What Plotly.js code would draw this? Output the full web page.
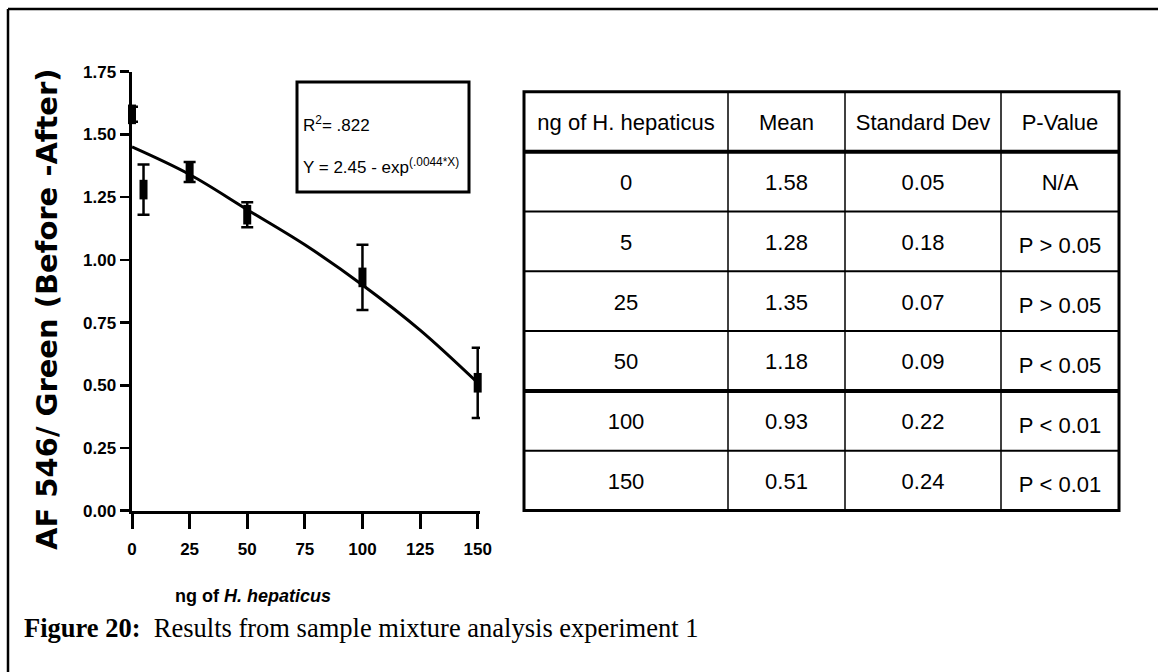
<!DOCTYPE html>
<html>
<head>
<meta charset="utf-8">
<script src="https://cdn.plot.ly/plotly-3.0.1.min.js"></script>
<style>
html,body{margin:0;padding:0;background:#fff;}
#chart{width:1158px;height:672px;}
</style>
</head>
<body>
<div id="chart"></div>
<script>
// ---- data ----
const conc = [0, 5, 25, 50, 100, 150];               // ng of H. hepaticus
const meanVals = [1.58, 1.28, 1.35, 1.18, 0.93, 0.51];
const errBars = [0.03, 0.10, 0.04, 0.05, 0.13, 0.14]; // error bar half-lengths
const sdVals = ["0.05", "0.18", "0.07", "0.09", "0.22", "0.24"];
const pVals = ["N/A", "P > 0.05", "P > 0.05", "P < 0.05", "P < 0.01", "P < 0.01"];
const fitX = [0, 25, 50, 75, 100, 125, 150];
const fitY = [1.45, 1.34, 1.20, 1.06, 0.90, 0.72, 0.51];
const yTicks = [0, 0.25, 0.5, 0.75, 1.0, 1.25, 1.5, 1.75];
const xTicks = [0, 25, 50, 75, 100, 125, 150];
const tableHeader = ["ng of H. hepaticus", "Mean", "Standard Dev", "P-Value"];

const W = 1158, H = 672;
const px = v => v / W;
const py = v => 1 - v / H;

const SANS = "Liberation Sans, Arial, sans-serif";
const noWrap = s => String(s).replace(/ /g, "\u00A0");
const escHtml = s => String(s).replace(/</g, "&lt;").replace(/>/g, "&gt;");

// table geometry (pixels)
const colEdges = [524, 728, 845, 1001, 1119];
const tTop = 91.7, headH = 60, rowH = 59.8;
const nRows = conc.length;
const tBottom = tTop + headH + nRows * rowH;
const textShift = 13.7; // Plotly table text sits near top of a cell; shift the trace so text is centred

const traces = [
  {
    type: "scatter", mode: "lines", x: fitX, y: fitY,
    line: {color: "#000", width: 3, shape: "spline"},
    hoverinfo: "skip", showlegend: false, cliponaxis: false
  },
  {
    type: "scatter", mode: "markers", x: conc, y: meanVals,
    error_y: {type: "data", array: errBars, visible: true, color: "#000", thickness: 2.5, width: 6},
    marker: {symbol: "line-ns", size: 14, color: "#000", line: {color: "#000", width: 8}},
    showlegend: false, cliponaxis: false
  },
  {
    type: "table",
    domain: {x: [px(colEdges[0]), px(colEdges[4])], y: [py(tBottom + textShift), py(tTop + textShift)]},
    columnwidth: colEdges.slice(1).map((e, i) => e - colEdges[i]),
    header: {
      values: tableHeader.map(noWrap),
      align: "center",
      height: headH,
      line: {color: "rgba(0,0,0,0)", width: 0},
      fill: {color: "rgba(0,0,0,0)"},
      font: {family: SANS, size: 22, color: "#000"}
    },
    cells: {
      values: [conc.map(String), meanVals.map(v => v.toFixed(2)), sdVals, pVals.map(s => noWrap(escHtml(s)))],
      align: "center",
      height: rowH,
      line: {color: "rgba(0,0,0,0)", width: 0},
      fill: {color: "rgba(0,0,0,0)"},
      font: {family: SANS, size: 22, color: "#000"}
    }
  }
];

// table rules
const tableShapes = [];
colEdges.slice(1, -1).forEach(x => tableShapes.push({
  type: "line", xref: "paper", yref: "paper", x0: px(x), x1: px(x), y0: py(tBottom), y1: py(tTop),
  line: {color: "#000", width: 1.5}, layer: "above"
}));
for (let r = 1; r < nRows; r++) {
  const y = tTop + headH + r * rowH;
  const heavy = (r === 4);
  tableShapes.push({
    type: "line", xref: "paper", yref: "paper", x0: px(colEdges[0]), x1: px(colEdges[4]), y0: py(y), y1: py(y),
    line: {color: "#000", width: heavy ? 4 : 2}, layer: "above"
  });
}
tableShapes.push({
  type: "line", xref: "paper", yref: "paper", x0: px(colEdges[0]), x1: px(colEdges[4]),
  y0: py(tTop + headH), y1: py(tTop + headH), line: {color: "#000", width: 4}, layer: "above"
});
tableShapes.push({
  type: "rect", xref: "paper", yref: "paper", x0: px(colEdges[0]), x1: px(colEdges[4]),
  y0: py(tBottom), y1: py(tTop), line: {color: "#000", width: 3}, layer: "above"
});

const tickFont = {family: SANS, size: 17, color: "#000", weight: "bold"};

const layout = {
  width: W, height: H,
  margin: {l: 0, r: 0, t: 0, b: 0},
  paper_bgcolor: "#fff", plot_bgcolor: "#fff",
  showlegend: false,
  xaxis: {
    domain: [px(132), px(480)],
    range: [0, 151], tickvals: xTicks,
    ticks: "outside", ticklen: 15, tickwidth: 3, tickcolor: "#000",
    ticklabelstandoff: 5,
    showline: true, linewidth: 3.5, linecolor: "#000",
    showgrid: false, zeroline: false, tickfont: tickFont,
    fixedrange: true
  },
  yaxis: {
    domain: [py(510.7), py(71.7)],
    range: [0, 1.75], tickvals: yTicks, tickformat: ".2f",
    ticks: "outside", ticklen: 9, tickwidth: 2.5, tickcolor: "#000",
    showline: true, linewidth: 3.5, linecolor: "#000",
    showgrid: false, zeroline: false, tickfont: tickFont,
    fixedrange: true
  },
  shapes: [
    // outer figure frame (top and left)
    {type: "line", xref: "paper", yref: "paper", x0: px(8), x1: 1, y0: py(9), y1: py(9), line: {color: "#000", width: 2.5}},
    {type: "line", xref: "paper", yref: "paper", x0: px(8), x1: px(8), y0: py(9), y1: 0, line: {color: "#000", width: 2.5}},
    // equation box
    {type: "rect", xref: "paper", yref: "paper", x0: px(297), x1: px(469), y0: py(192), y1: py(82), line: {color: "#000", width: 3}}
  ].concat(tableShapes),
  annotations: [
    {
      text: "AF 546/ Green (Before -After)", textangle: -90,
      xref: "paper", yref: "paper", x: px(47), y: py(309),
      xanchor: "center", yanchor: "middle", showarrow: false,
      font: {family: "DejaVu Sans, sans-serif", size: 29, color: "#000", weight: "bold"}
    },
    {
      text: "ng of <i>H. hepaticus</i>",
      xref: "paper", yref: "paper", x: px(253), y: py(596),
      xanchor: "center", yanchor: "middle", showarrow: false,
      font: {family: SANS, size: 18, color: "#000", weight: "bold"}
    },
    {
      text: "R<sup>2</sup>= .822",
      xref: "paper", yref: "paper", x: px(301), y: py(124),
      xanchor: "left", yanchor: "middle", showarrow: false,
      font: {family: SANS, size: 17, color: "#000"}
    },
    {
      text: "Y = 2.45 - exp<sup>(.0044*X)</sup>",
      xref: "paper", yref: "paper", x: px(301), y: py(166),
      xanchor: "left", yanchor: "middle", showarrow: false,
      font: {family: SANS, size: 17, color: "#000"}
    },
    {
      text: "<b>Figure 20:</b>\u00A0 Results from sample mixture analysis experiment 1",
      xref: "paper", yref: "paper", x: px(22), y: py(628),
      xanchor: "left", yanchor: "middle", showarrow: false,
      font: {family: "Liberation Serif, Times New Roman, serif", size: 26.5, color: "#000"}
    }
  ]
};

Plotly.newPlot("chart", traces, layout, {staticPlot: true, displayModeBar: false});
</script>
</body>
</html>
